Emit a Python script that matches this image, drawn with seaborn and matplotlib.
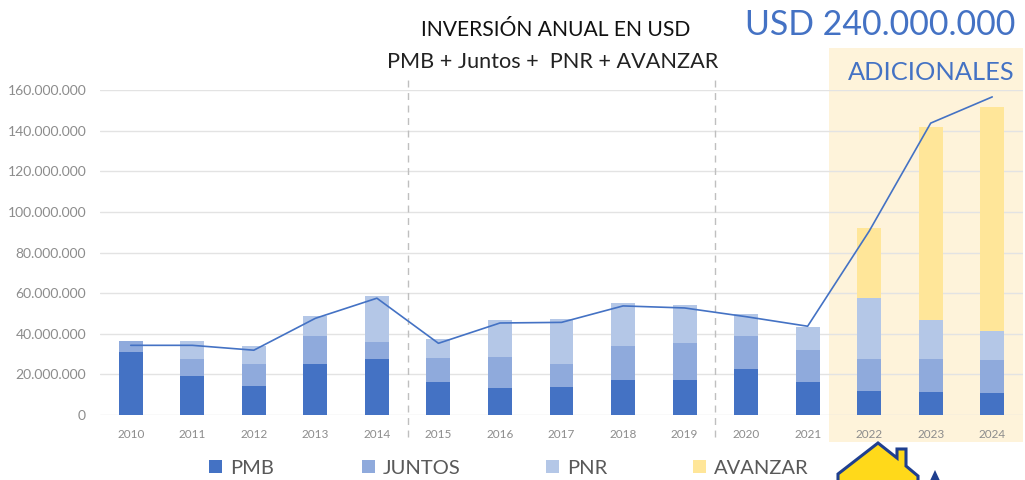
import matplotlib
matplotlib.use("Agg")
import matplotlib.pyplot as plt
import seaborn as sns
import numpy as np
import pandas as pd
from matplotlib.patches import Rectangle, Patch, Polygon
from matplotlib.ticker import FuncFormatter, MultipleLocator

years = ["2010", "2011", "2012", "2013", "2014", "2015", "2016", "2017",
         "2018", "2019", "2020", "2021", "2022", "2023", "2024"]
pmb = [31.0, 19.2, 14.1, 25.3, 27.6, 16.1, 13.1, 13.8, 17.2, 17.1, 22.8, 16.1, 11.7, 11.3, 11.0]
juntos = [5.5, 8.5, 11.2, 13.5, 8.5, 12.1, 15.5, 11.3, 16.8, 18.2, 16.3, 16.1, 15.9, 16.1, 16.1]
pnr = [0.0, 8.7, 8.7, 10.0, 22.5, 9.1, 18.3, 22.2, 21.0, 18.9, 10.7, 11.3, 29.9, 19.4, 14.3]
avanzar = [0.0, 0.0, 0.0, 0.0, 0.0, 0.0, 0.0, 0.0, 0.0, 0.0, 0.0, 0.0, 34.8, 95.2, 110.2]
total_line = [34.3, 34.3, 31.9, 47.6, 57.5, 35.3, 45.3, 45.6, 53.7, 52.7, 48.4, 43.7, 90.5, 143.7, 156.6]
series_names = ["PMB", "JUNTOS", "PNR", "AVANZAR"]
colors = ["#4472C4", "#8FAADC", "#B4C7E7", "#FFE699"]

M = 1e6
df = pd.DataFrame({"year": years, "PMB": np.array(pmb) * M, "JUNTOS": np.array(juntos) * M,
                   "PNR": np.array(pnr) * M, "AVANZAR": np.array(avanzar) * M})
df["c1"] = df["PMB"]
df["c2"] = df["c1"] + df["JUNTOS"]
df["c3"] = df["c2"] + df["PNR"]
df["c4"] = df["c3"] + df["AVANZAR"]

sns.set_theme(style="white")
plt.rcParams["font.family"] = ["Lato", "DejaVu Sans"]

fig = plt.figure(figsize=(10.25, 4.8), dpi=100)
ax = fig.add_axes([100 / 1025, 1 - 415 / 480, 923 / 1025, 325 / 480])

# highlight region
ax.add_patch(Rectangle((11.34, -13.3 * M), 14.5 - 11.34, 194 * M, facecolor="#FEF3DA",
                       edgecolor="none", zorder=0, clip_on=False))

for col, c in zip(["c4", "c3", "c2", "c1"], colors[::-1]):
    sns.barplot(data=df, x="year", y=col, color=c, width=0.39, ax=ax,
                saturation=1, errorbar=None, zorder=2, linewidth=0, edgecolor="none")

sns.lineplot(x=np.arange(len(years)), y=np.array(total_line) * M, ax=ax,
             color="#4472C4", linewidth=1.2, zorder=3)

for xv in [4.5, 9.5]:
    ax.plot([xv, xv], [-10.8 * M, 167.5 * M], color="#BFBFBF", linestyle=(0, (5, 4)),
            linewidth=1.0, clip_on=False, zorder=1)

ax.set_xlim(-0.5, 14.5)
ax.set_ylim(0, 160 * M)
ax.yaxis.set_major_locator(MultipleLocator(20 * M))
ax.yaxis.set_major_formatter(FuncFormatter(lambda v, p: f"{v:,.0f}".replace(",", ".")))
ax.set_axisbelow(True)
ax.grid(axis="y", color="#E3E3E3", linewidth=1.0)
ax.grid(axis="x", visible=False)
for s in ax.spines.values():
    s.set_visible(False)
ax.set_xlabel("")
ax.set_ylabel("")
ax.tick_params(axis="y", labelsize=10, labelcolor="#8C8C8C", length=0, pad=10)
ax.tick_params(axis="x", labelsize=8.5, labelcolor="#8C8C8C", length=0, pad=10)
ax.patch.set_alpha(0)

fig.text(556 / 1025, 1 - 30 / 480, "INVERSIÓN ANUAL EN USD", ha="center", va="center",
         fontsize=15.2, color="#111111")
fig.text(553 / 1025, 1 - 62 / 480, "PMB + Juntos +  PNR + AVANZAR", ha="center", va="center",
         fontsize=15.6, color="#222222")
fig.text(1015 / 1025, 1 - 25 / 480, "USD 240.000.000", ha="right", va="center",
         fontsize=24.4, color="#4472C4")
fig.text(1015 / 1025, 1 - 73 / 480, "ADICIONALES", ha="right", va="center",
         fontsize=18.3, color="#4472C4")

legend_x = [209, 362, 546, 693]
for name, c, xp in zip(series_names, colors, legend_x):
    fig.legend(handles=[Patch(facecolor=c, edgecolor="none")], labels=[name],
               loc="center left", bbox_to_anchor=(xp / 1025, 1 - 468 / 480),
               frameon=False, fontsize=14.5, labelcolor="#595959", borderpad=0,
               handlelength=0.65, handleheight=0.65, handletextpad=0.4, borderaxespad=0)

# partial logo (decorative)
W, H = 1025, 480
def fc(pts):
    return [(x / W, 1 - y / H) for x, y in pts]
house = fc([(838, 485), (838, 474), (878, 443), (897, 458), (897, 449), (906, 449),
            (906, 466), (918, 476), (918, 485)])
fig.patches.append(Polygon(house, closed=True, facecolor="#FFD91A", edgecolor="#1F3F8F",
                           linewidth=2.2, transform=fig.transFigure, figure=fig))
fig.patches.append(Polygon(fc([(928, 485), (935, 470), (942, 485)]), closed=True,
                           facecolor="#1F3F8F", edgecolor="none",
                           transform=fig.transFigure, figure=fig))

fig.savefig("out.png", dpi=100)
